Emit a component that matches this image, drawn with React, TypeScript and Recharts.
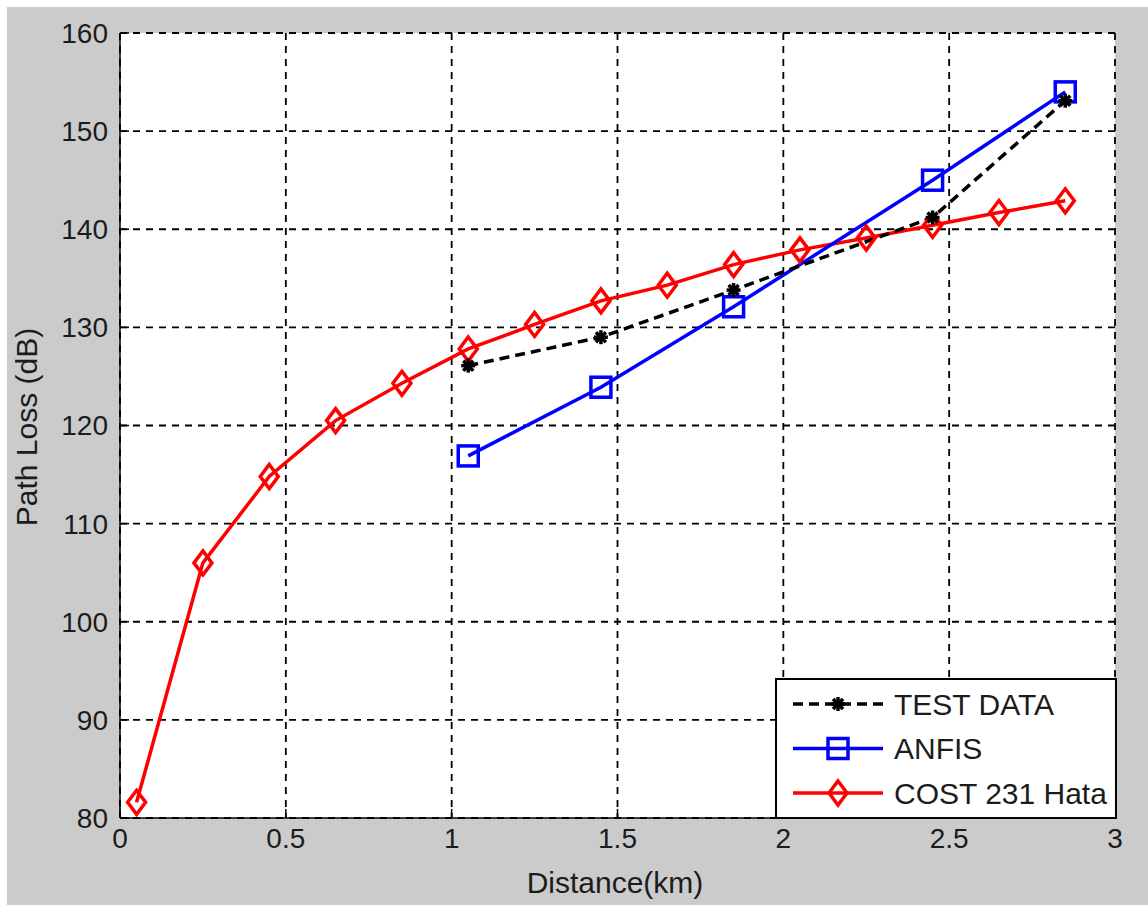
import React from "react";
import {
  CartesianGrid,
  Legend,
  Line,
  LineChart,
  XAxis,
  YAxis,
} from "recharts";

// distances (km) and path loss (dB)
const testDist = [1.05, 1.45, 1.85, 2.45, 2.85];
const testLoss = [126.1, 129.0, 133.8, 141.2, 153.1];

const anfisDist = [1.05, 1.45, 1.85, 2.45, 2.85];
const anfisLoss = [116.9, 123.9, 132.1, 145.0, 154.0];

const hataDist = [
  0.05, 0.25, 0.45, 0.65, 0.85, 1.05, 1.25, 1.45, 1.65, 1.85, 2.05, 2.25, 2.45,
  2.65, 2.85,
];
const hataLoss = [
  81.6, 106.0, 114.8, 120.5, 124.3, 127.8, 130.3, 132.7, 134.3, 136.4, 137.9,
  139.1, 140.4, 141.7, 142.9,
];

const xTicks = [0, 0.5, 1, 1.5, 2, 2.5, 3];
const yTicks = [80, 90, 100, 110, 120, 130, 140, 150, 160];

const toPoints = (xs: number[], ys: number[]) =>
  xs.map((x, i) => ({ x, y: ys[i] }));

const testData = toPoints(testDist, testLoss);
const anfisData = toPoints(anfisDist, anfisLoss);
const hataData = toPoints(hataDist, hataLoss);

const FONT = "Arial, 'Liberation Sans', Helvetica, sans-serif";
const TEXT = "#1c1c1c";

const Star = ({ cx, cy }: { cx: number; cy: number }) => (
  <g stroke="#000" strokeWidth={3.5}>
    <line x1={cx - 7} y1={cy} x2={cx + 7} y2={cy} />
    <line x1={cx} y1={cy - 7} x2={cx} y2={cy + 7} />
    <line x1={cx - 5} y1={cy - 5} x2={cx + 5} y2={cy + 5} />
    <line x1={cx - 5} y1={cy + 5} x2={cx + 5} y2={cy - 5} />
  </g>
);

const Square = ({ cx, cy }: { cx: number; cy: number }) => (
  <rect
    x={cx - 10}
    y={cy - 10}
    width={20}
    height={20}
    fill="none"
    stroke="#0000ff"
    strokeWidth={3.5}
  />
);

const Diamond = ({ cx, cy }: { cx: number; cy: number }) => (
  <path
    d={`M${cx},${cy - 12} L${cx + 9},${cy} L${cx},${cy + 12} L${cx - 9},${cy} Z`}
    fill="none"
    stroke="#ff0000"
    strokeWidth={3.5}
  />
);

const dotOf =
  (Shape: React.FC<{ cx: number; cy: number }>, name: string) =>
  (props: any) =>
    <Shape key={`${name}-${props.index}`} cx={props.cx} cy={props.cy} />;

const legendRows = [
  { label: "TEST DATA", color: "#000", dash: "10 6", Mark: Star },
  { label: "ANFIS", color: "#0000ff", dash: undefined, Mark: Square },
  { label: "COST 231 Hata", color: "#ff0000", dash: undefined, Mark: Diamond },
];

const LegendBox = () => (
  <svg width={342} height={141} style={{ display: "block" }}>
    <rect x={1} y={1} width={340} height={139} fill="#fff" stroke="#000" strokeWidth={2} />
    {legendRows.map((r, i) => {
      const y = 26 + i * 44.5;
      return (
        <g key={r.label}>
          <line
            x1={18}
            x2={108}
            y1={y}
            y2={y}
            stroke={r.color}
            strokeWidth={3.5}
            strokeDasharray={r.dash}
          />
          <r.Mark cx={63} cy={y} />
          <text
            x={119}
            y={y}
            dominantBaseline="central"
            fontFamily={FONT}
            fontSize={30}
            fill={TEXT}
          >
            {r.label}
          </text>
        </g>
      );
    })}
  </svg>
);

const YTitle = () => (
  <text
    x={26}
    y={427}
    transform="rotate(-90 26 427)"
    textAnchor="middle"
    dominantBaseline="central"
    fontFamily={FONT}
    fontSize={30}
    fill={TEXT}
  >
    Path Loss (dB)
  </text>
);

const XTitle = () => (
  <text
    x={615}
    y={882}
    textAnchor="middle"
    dominantBaseline="central"
    fontFamily={FONT}
    fontSize={30}
    fill={TEXT}
  >
    Distance(km)
  </text>
);

const tickStyle = { fontFamily: FONT, fontSize: 28, fill: TEXT };

export default function App() {
  return (
    <div
      style={{
        position: "absolute",
        left: 0,
        top: 0,
        width: 1148,
        height: 905,
        background: "#fff",
      }}
    >
      <div
        style={{
          position: "absolute",
          left: 7,
          top: 7,
          width: 1141,
          height: 898,
          background: "#cbcbcb",
        }}
      />
      <div style={{ position: "absolute", left: 0, top: 0 }}>
        <LineChart
          width={1148}
          height={905}
          margin={{ top: 33, right: 33, bottom: 7, left: 0 }}
        >
          <CartesianGrid
            stroke="#000"
            strokeWidth={1.8}
            strokeDasharray="7 6"
            fill="#fff"
            fillOpacity={1}
          />
          <XAxis
            xAxisId="top"
            orientation="top"
            type="number"
            dataKey="x"
            domain={[0, 3]}
            ticks={xTicks}
            height={0}
            tickSize={-9}
            tickFormatter={() => ""}
            stroke="#000"
            strokeWidth={1.5}
          />
          <YAxis
            yAxisId="right"
            orientation="right"
            type="number"
            domain={[80, 160]}
            ticks={yTicks}
            width={0}
            tickSize={-9}
            tickFormatter={() => ""}
            stroke="#000"
            strokeWidth={1.5}
          />
          <XAxis
            type="number"
            dataKey="x"
            domain={[0, 3]}
            ticks={xTicks}
            height={80}
            tickSize={-9}
            tickMargin={19}
            tick={tickStyle}
            stroke="#000"
            strokeWidth={1.5}
            allowDuplicatedCategory={false}
            label={<XTitle />}
          />
          <YAxis
            type="number"
            domain={[80, 160]}
            ticks={yTicks}
            width={120}
            tickSize={-9}
            tickMargin={21}
            tick={tickStyle}
            stroke="#000"
            strokeWidth={1.5}
            label={<YTitle />}
          />
          <Line
            data={hataData}
            dataKey="y"
            name="COST 231 Hata"
            stroke="#ff0000"
            strokeWidth={3.5}
            dot={dotOf(Diamond, "h")}
            isAnimationActive={false}
          />
          <Line
            data={anfisData}
            dataKey="y"
            name="ANFIS"
            stroke="#0000ff"
            strokeWidth={3.5}
            dot={dotOf(Square, "a")}
            isAnimationActive={false}
          />
          <Line
            data={testData}
            dataKey="y"
            name="TEST DATA"
            stroke="#000"
            strokeWidth={3.5}
            strokeDasharray="10 6"
            dot={dotOf(Star, "t")}
            isAnimationActive={false}
          />
          <Legend
            layout="vertical"
            align="center"
            verticalAlign="middle"
            content={() => <LegendBox />}
            wrapperStyle={{ left: 775, top: 678, width: 342, height: 141 }}
          />
        </LineChart>
      </div>
    </div>
  );
}
